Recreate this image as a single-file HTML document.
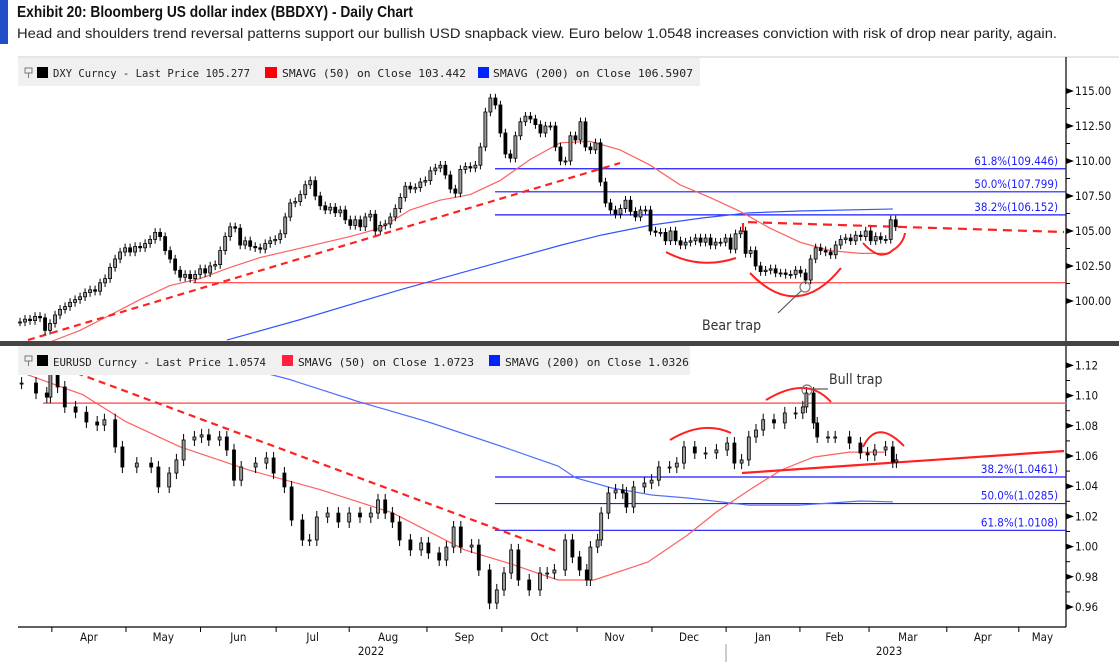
<!DOCTYPE html>
<html><head><meta charset="utf-8"><style>
body{margin:0;background:#fff;width:1119px;height:662px;overflow:hidden}
svg{display:block}
.t{font-family:"Liberation Sans",sans-serif}
.m{font-family:"DejaVu Sans Mono","Liberation Mono",monospace;font-size:10.5px;fill:#222}
.ax{font-family:"DejaVu Sans Condensed","DejaVu Sans",sans-serif;font-size:11.5px;fill:#111}
.fib{font-family:"DejaVu Sans Condensed","DejaVu Sans",sans-serif;font-size:11.5px;fill:#1a1aff}
</style></head><body>
<svg id="c" width="1119" height="662" xmlns="http://www.w3.org/2000/svg">
<rect x="0" y="0" width="8" height="44" fill="#1f4fc8"/>
<text class="t" x="17" y="17" font-size="15.5" font-weight="bold" fill="#111" textLength="396" lengthAdjust="spacingAndGlyphs">Exhibit 20: Bloomberg US dollar index (BBDXY) - Daily Chart</text>
<text class="t" x="17" y="38" font-size="14" fill="#222" textLength="1040" lengthAdjust="spacingAndGlyphs">Head and shoulders trend reversal patterns support our bullish USD snapback view. Euro below 1.0548 increases conviction with risk of drop near parity, again.</text>
<line x1="18" y1="57" x2="1119" y2="57" stroke="#ccc"/>
<g id="top"></g>
<g id="bot"></g>
<rect x="0" y="341" width="1119" height="5" fill="#444"/>
<rect x="18" y="58" width="682" height="28" fill="#f0f0f0"/>
<path d="M25 68h7v5h-7z M28.5 73v5" fill="none" stroke="#777"/>
<rect x="37" y="67" width="11" height="11" fill="#000"/>
<text class="m" x="53" y="77" textLength="197" lengthAdjust="spacingAndGlyphs">DXY Curncy - Last Price 105.277</text>
<rect x="265" y="67" width="12" height="11" fill="#f00"/>
<text class="m" x="282" y="77" textLength="184" lengthAdjust="spacingAndGlyphs">SMAVG (50)  on Close 103.442</text>
<rect x="478" y="67" width="11" height="11" fill="#0022ff"/>
<text class="m" x="493" y="77" textLength="200" lengthAdjust="spacingAndGlyphs">SMAVG (200)  on Close 106.5907</text>
<rect x="18" y="346" width="672" height="29" fill="#f0f0f0"/>
<path d="M25 356h7v5h-7z M28.5 361v5" fill="none" stroke="#777"/>
<rect x="37" y="355" width="11" height="11" fill="#000"/>
<text class="m" x="53" y="366" textLength="213" lengthAdjust="spacingAndGlyphs">EURUSD Curncy - Last Price 1.0574</text>
<rect x="282" y="355" width="11" height="11" fill="#ff2040"/>
<text class="m" x="298" y="366" textLength="176" lengthAdjust="spacingAndGlyphs">SMAVG (50)  on Close 1.0723</text>
<rect x="489" y="355" width="11" height="11" fill="#0022ff"/>
<text class="m" x="505" y="366" textLength="184" lengthAdjust="spacingAndGlyphs">SMAVG (200)  on Close 1.0326</text>
<g id="xa"></g>
</svg>
<script>
// ---- data ----
const topCloses=[98.5,98.7,98.6,98.9,98.8,97.9,98.4,99.0,99.4,99.6,99.9,100.1,100.3,100.6,100.8,100.7,101.3,
101.6,102.4,103.0,103.5,103.8,103.5,103.9,103.8,104.1,104.4,104.9,104.6,103.6,103.0,102.2,101.7,101.9,101.6,101.9,102.3,
102.0,102.5,102.6,103.6,104.6,105.3,105.2,104.0,104.3,103.9,103.8,103.7,104.1,104.3,104.4,104.8,106.0,107.0,107.1,107.6,
108.3,108.6,107.5,106.8,106.5,106.7,106.3,106.5,105.8,105.4,105.8,105.3,106.0,106.2,105.0,105.4,105.5,106.0,106.6,107.4,
108.2,108.0,108.1,108.5,108.6,109.3,109.5,109.7,109.0,108.0,107.7,109.4,109.6,109.5,109.7,111.0,113.5,114.5,114.0,112.0,
110.5,110.2,111.8,112.8,113.2,113.0,112.6,112.0,112.5,112.5,111.0,110.0,110.0,111.8,111.5,112.8,111.0,110.8,111.3,108.5,
107.0,106.5,106.2,106.6,107.2,106.4,106.0,106.5,106.5,105.0,104.9,104.9,104.3,105.0,104.3,104.0,104.2,104.3,104.5,104.2,
104.5,104.0,104.2,104.2,104.5,103.7,104.8,105.0,103.4,103.6,102.5,102.1,102.2,102.3,102.0,102.0,101.9,101.9,102.2,102.0,
101.5,103.0,103.8,103.6,103.5,103.3,104.0,104.4,104.5,104.3,104.7,104.6,105.0,104.3,104.6,104.4,104.4,105.8,105.3];
const topStartDay=0.56, topStepDays=1.39;
const topSma50Days=[8.9,17.2,25.6,33.9,42.2,50.6,58.9,67.2,75.6,83.9,92.2,100.6,108.9,117.2,125.6,133.9,142.2,150.6,158.9,167.2,175.6,183.9,192.2,200.6,208.9,217.2,225.6,233.9,242.2];
const topSma50=[97.07,97.9,99.0,100.1,101.1,101.6,102.4,103.1,103.6,104.1,104.6,105.2,106.5,107.2,107.6,108.6,110.1,111.3,111.4,110.8,109.7,108.3,107.4,106.4,105.2,104.2,103.6,103.4,103.4];
const topSma200Days=[58,78,106,134,151,162,176,190,203,217,243];
const topSma200=[97.21,98.64,100.79,102.79,104.0,104.71,105.43,105.93,106.29,106.43,106.57];
const topFib=[109.446,107.799,106.152], topFibLbl=["61.8%(109.446)","50.0%(107.799)","38.2%(106.152)"];
const topTicks=[115,112.5,110,107.5,105,102.5,100], topTickLbl=["115.00","112.50","110.00","107.50","105.00","102.50","100.00"];
const topSupport=101.3;

const botDays=[1,5,8,9,11,13,16,19,22,24,27,29,33,37,39,42,44,46,49,51,53,56,58,60,62,66,69,71,74,76,79,81,83,86,89,92,95,98,100,102,104,106,109,112,114,117,119,121,123,126,128,131,133,135,137,139,142,145,147,149,152,154,156,158,159,161,162,164,166,168,169,171,174,176,178,181,183,185,188,191,194,197,199,201,203,205,207,210,213,216,218,219,221,222,225,227,231,234,236,238,241,243,244];
const botCloses=[1.1083,1.1017,1.099,1.117,1.1057,1.0925,1.089,1.0825,1.0805,1.084,1.066,1.0527,1.0553,1.0527,1.0395,1.0487,1.0574,1.0706,1.0726,1.074,1.0706,1.0726,1.064,1.044,1.0527,1.0553,1.0587,1.0487,1.0395,1.0176,1.0044,1.0044,1.0196,1.0222,1.0163,1.0222,1.0196,1.0222,1.0309,1.0222,1.0163,1.0044,0.9978,1.0024,0.9958,0.9911,0.9997,1.013,0.9997,1.001,0.9845,0.9626,0.9713,0.9825,0.9978,0.9779,0.9713,0.9825,0.9825,0.9845,1.0044,0.9931,0.9845,0.9779,0.9997,1.0044,1.0222,1.0355,1.0375,1.0355,1.0262,1.0395,1.0421,1.044,1.0527,1.0527,1.0553,1.066,1.062,1.062,1.064,1.0686,1.0553,1.0574,1.0726,1.0772,1.084,1.0819,1.0885,1.0885,1.0925,1.1017,1.0819,1.0726,1.0726,1.0726,1.0686,1.062,1.0607,1.064,1.066,1.056,1.0574];
const botSma50Days=[1,18,30,45,64,84,104,124,136,150,155,160,175,186,194,204,212,221,231,241];
const botSma50=[1.1152,1.1006,1.0827,1.0661,1.0508,1.0377,1.0224,0.9979,0.9892,0.9779,0.9779,0.9779,0.9898,1.0077,1.0229,1.0388,1.0507,1.0593,1.0626,1.0626];
const botSma200Days=[37,75,94,114,134,150,155,165,176,186,203,217,234,243];
const botSma200=[1.1342,1.1110,1.0964,1.0825,1.0666,1.0534,1.0454,1.0388,1.0342,1.0322,1.0275,1.0275,1.0302,1.0296];
const botFib=[1.0461,1.0285,1.0108], botFibLbl=["38.2%(1.0461)","50.0%(1.0285)","61.8%(1.0108)"];
const botTicks=[1.12,1.10,1.08,1.06,1.04,1.02,1.00,0.98,0.96], botTickLbl=["1.12","1.10","1.08","1.06","1.04","1.02","1.00","0.98","0.96"];
const botResist=1.095;
const monthTickDays=[9.4,30,50.7,71.7,92,113.6,134.4,155.3,176.1,196.7,217.2,236.4,258,278];
const monthLbl=["Apr","May","Jun","Jul","Aug","Sep","Oct","Nov","Dec","Jan","Feb","Mar","Apr","May"];

// ---- scales ----
const AX=1066;
const xD=d=>18+d*3.6;
const yT=v=>231-(v-105)*14;
const yB=v=>456-(v-1.06)*1510;
const NS="http://www.w3.org/2000/svg";
function mk(p,tag,a){const e=document.createElementNS(NS,tag);for(const k in a)e.setAttribute(k,a[k]);p.appendChild(e);return e;}
const gTop=document.getElementById('top'),gBot=document.getElementById('bot'),xa=document.getElementById('xa');

function poly(g,days,vals,ys,color,name,w){
  const pts=days.map((d,i)=>xD(d).toFixed(1)+','+ys(vals[i]).toFixed(1)).join(' ');
  const e=mk(g,'polyline',{points:pts,fill:'none',stroke:color,'stroke-width':w||1.2});
  
  
}
function candles(g,days,vals,ys,wk,name){
  for(let i=0;i<vals.length;i++){
    const c=vals[i],o=i?vals[i-1]:vals[i];
    const x=xD(days[i]);
    const hi=Math.max(o,c)+wk,lo=Math.min(o,c)-wk;
    const l=mk(g,'line',{x1:x,x2:x,y1:ys(hi),y2:ys(lo),stroke:'#000','stroke-width':1});
    
    
    const yt=ys(Math.max(o,c)),yb=ys(Math.min(o,c));
    const r=mk(g,'rect',{x:x-1.5,y:yt,width:3,height:Math.max(1,yb-yt),fill:c>=o?'#999':'#000',stroke:'#000','stroke-width':0.8});
    
    
  }
}
function yaxis(g,ticks,lbls,ys,y0,y1){
  const a=mk(g,'line',{x1:AX,x2:AX,y1:y0,y2:y1,stroke:'#000','stroke-width':1.2});
  
  
  ticks.forEach((v,i)=>{
    const y=ys(v);
    const p=mk(g,'path',{d:`M${AX} ${y-3}L${AX+8} ${y}L${AX} ${y+3}Z`,fill:'#000'});
    
    
    const t=mk(g,'text',{x:AX+9,y:y+4,class:'ax'});t.textContent=lbls[i];
    
    
    if(i<ticks.length-1){const ym=(y+ys(ticks[i+1]))/2;
      const m=mk(g,'line',{x1:AX,x2:AX+4,y1:ym,y2:ym,stroke:'#000'});
      
      }
  });
}
function hline(g,y,x0,color,name,w,dash){
  const l=mk(g,'line',{x1:x0,x2:AX,y1:y,y2:y,stroke:color,'stroke-width':w||1});
  if(dash)l.setAttribute('stroke-dasharray',dash);
  
  
}
function path(g,d,color,w,name,dash){
  const e=mk(g,'path',{d:d,fill:'none',stroke:color,'stroke-width':w});
  if(dash)e.setAttribute('stroke-dasharray',dash);
  
  
}
function txt(g,x,y,s,cls,name,extra){
  const t=mk(g,'text',Object.assign({x:x,y:y,class:cls},extra||{}));t.textContent=s;
  
  
}
function circ(g,cx,cy,name){
  const c=mk(g,'circle',{cx:cx,cy:cy,r:5,fill:'none',stroke:'#777','stroke-width':1.2});
  
  
}

// ---- top panel ----
yaxis(gTop,topTicks,topTickLbl,yT,57,341);
topFib.forEach((v,i)=>{hline(gTop,yT(v),495,'#1a1aff','fib-line-top',1.2);txt(gTop,1058,yT(v)-4,topFibLbl[i],'fib','fib-label-top',{'text-anchor':'end'});});
hline(gTop,yT(topSupport),193,'#ff2020','support-line-top',1);
poly(gTop,topSma200Days,topSma200,yT,'#3355ff','sma200-line-top',1.2);
poly(gTop,topSma50Days,topSma50,yT,'#ff6060','sma50-line-top',1.2);
path(gTop,'M28 340L620 163','#ff2020',2.2,'trendline-dashed-top','7,5');
path(gTop,'M743 232L743 222L1064 232','#ff2020',2.2,'neckline-dashed-top','9,6');
const topDays=topCloses.map((_,i)=>topStartDay+i*topStepDays);
candles(gTop,topDays,topCloses,yT,0.3,'dxy-candle');
path(gTop,'M666 252Q700 270 736 258','#ff2020',2,'left-shoulder-arc-top');
path(gTop,'M750 273Q797 322 841 268','#ff2020',2,'head-arc-top');
path(gTop,'M863 243Q880 262 893 250Q903 244 905 233','#ff2020',2,'right-shoulder-arc-top');
circ(gTop,805,287,'bear-trap-marker');
path(gTop,'M801 291L778 313','#555',1.2,'bear-trap-pointer');
txt(gTop,702,330,'Bear trap','ax','bear-trap-label',{style:'font-size:14px;fill:#333'});

// ---- bottom panel ----
yaxis(gBot,botTicks,botTickLbl,yB,346,627);
botFib.forEach((v,i)=>{hline(gBot,yB(v),495,'#1a1aff','fib-line-bottom',1.2);txt(gBot,1058,yB(v)-4,botFibLbl[i],'fib','fib-label-bottom',{'text-anchor':'end'});});
hline(gBot,yB(botResist),43,'#ff6060','resistance-line-bottom',1.5);
poly(gBot,botSma200Days,botSma200,yB,'#5570ff','sma200-line-bottom',1.2);
poly(gBot,botSma50Days,botSma50,yB,'#ff6060','sma50-line-bottom',1.2);
path(gBot,'M20 352L559 552','#ff2020',2.2,'trendline-dashed-bottom','7,5');
path(gBot,'M742 473L1064 451','#ff2020',2.2,'neckline-bottom');
candles(gBot,botDays,botCloses,yB,0.004,'eurusd-candle');
path(gBot,'M670 440Q703 420 731 433','#ff2020',2,'left-shoulder-arc-bottom');
path(gBot,'M766 400Q807 375 831 402','#ff2020',2,'head-arc-bottom');
path(gBot,'M863 447Q877 418 904 446','#ff2020',2,'right-shoulder-arc-bottom');
circ(gBot,807,390,'bull-trap-marker');
path(gBot,'M812 389L828 389','#555',1.2,'bull-trap-pointer');
txt(gBot,829,384,'Bull trap','ax','bull-trap-label',{style:'font-size:14px;fill:#333'});

// ---- x axis ----
const xl=mk(xa,'line',{x1:18,x2:AX,y1:627,y2:627,stroke:'#000','stroke-width':1.2});


monthTickDays.forEach((d,i)=>{
  const x=xD(d);
  const tk=mk(xa,'line',{x1:x,x2:x,y1:627,y2:632,stroke:'#000'});
  
  
  const nx=i<monthTickDays.length-1?xD(monthTickDays[i+1]):AX;
  txt(xa,(x+nx)/2,641,monthLbl[i],'ax','x-tick-label',{'text-anchor':'middle'});
});
txt(xa,371,655,'2022','ax','year-label-2022',{'text-anchor':'middle'});
txt(xa,889,655,'2023','ax','year-label-2023',{'text-anchor':'middle'});
const ysep=mk(xa,'line',{x1:726,x2:726,y1:644,y2:662,stroke:'#999'});


</script>
</body></html>
